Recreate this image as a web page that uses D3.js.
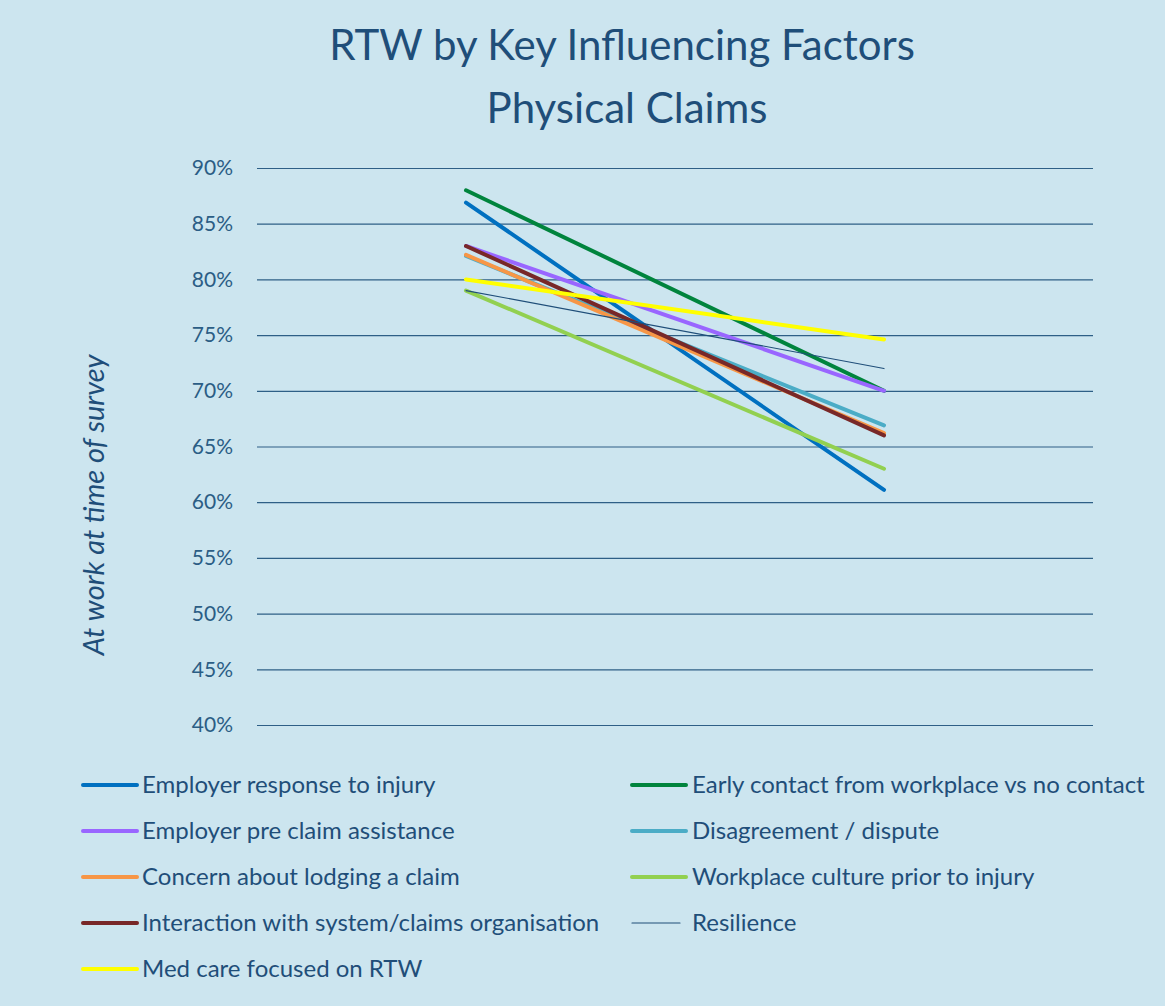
<!DOCTYPE html>
<html>
<head>
<meta charset="utf-8">
<script src="https://cdn.jsdelivr.net/npm/d3@7"></script>
<style>
  body { margin: 0; background: #cce5ef; }
  svg text { font-family: Lato, "Open Sans", sans-serif; fill: #1f4e79; }
</style>
</head>
<body>
<div id="container"></div>
<script>
// categories (two survey points, unlabeled on the chart)
const categories = ["Before", "After"];
const seriesNames = [
  "Employer response to injury",
  "Early contact from workplace vs no contact",
  "Employer pre claim assistance",
  "Disagreement / dispute",
  "Concern about lodging a claim",
  "Workplace culture prior to injury",
  "Interaction with system/claims organisation",
  "Resilience",
  "Med care focused on RTW"
];
const startValues = [0.869, 0.880, 0.830, 0.821, 0.822, 0.790, 0.830, 0.790, 0.800];
const endValues   = [0.611, 0.700, 0.700, 0.669, 0.662, 0.630, 0.660, 0.720, 0.746];
const seriesColors = ["#0070c0", "#00843d", "#9966ff", "#4bacc6", "#f79646", "#92d050", "#782828", "#1f4e79", "#ffff00"];
const seriesWidths = [4, 4, 4, 4, 4, 4, 4, 1.2, 4];
const yTicks = [0.40, 0.45, 0.50, 0.55, 0.60, 0.65, 0.70, 0.75, 0.80, 0.85, 0.90];

const w = 1165;
const h = 1006;
const plotLeft = 257, plotRight = 1093, plotTop = 168, plotBottom = 725;

const svg = d3.select("#container")
              .append("svg")
              .attr("width", w)
              .attr("height", h);

svg.append("rect").attr("width", w).attr("height", h).attr("fill", "#cce5ef");

const xScale = d3.scalePoint()
                 .domain(categories)
                 .range([plotLeft, plotRight])
                 .padding(0.5);
const yScale = d3.scaleLinear()
                 .domain([0.40, 0.90])
                 .range([plotBottom, plotTop]);

// gridlines + tick labels
const yAxis = d3.axisLeft(yScale)
                .tickValues(yTicks)
                .tickFormat(d3.format(".0%"))
                .tickSize(-(plotRight - plotLeft))
                .tickPadding(24);

const gy = svg.append("g")
   .attr("transform", "translate(" + plotLeft + ",0)")
   .call(yAxis);
gy.select(".domain").remove();
gy.selectAll("line").attr("stroke", "#2e5f86").attr("stroke-width", 1.2);
gy.selectAll("text")
  .style("font-size", "21px")
  .style("fill", "#2b5d85")
  .attr("font-family", null);

// series lines
const data = seriesNames.map((name, i) => ({
  name: name,
  color: seriesColors[i],
  width: seriesWidths[i],
  values: [startValues[i], endValues[i]]
}));

const line = d3.line()
               .x((d, i) => xScale(categories[i]))
               .y(d => yScale(d));

svg.selectAll("path.series")
   .data(data)
   .enter()
   .append("path")
   .attr("class", "series")
   .attr("d", d => line(d.values))
   .attr("fill", "none")
   .attr("stroke", d => d.color)
   .attr("stroke-width", d => d.width)
   .attr("stroke-linecap", "round");

// titles
svg.append("text")
   .attr("x", 622).attr("y", 60)
   .attr("text-anchor", "middle")
   .style("font-size", "42px")
   .text("RTW by Key Influencing Factors");
svg.append("text")
   .attr("x", 627).attr("y", 123)
   .attr("text-anchor", "middle")
   .style("font-size", "42px")
   .text("Physical Claims");

// y axis title
svg.append("text")
   .attr("transform", "translate(104,505) rotate(-90)")
   .attr("text-anchor", "middle")
   .style("font-size", "29px")
   .style("font-style", "italic")
   .text("At work at time of survey");

// legend
const legend = svg.append("g");
const items = legend.selectAll("g")
   .data(data)
   .enter()
   .append("g")
   .attr("transform", (d, i) => "translate(" + (i % 2 === 0 ? 83 : 632) + "," + (785 + Math.floor(i / 2) * 46) + ")");
items.append("line")
   .attr("x1", 0).attr("x2", d => d.width > 2 ? 54 : 48)
   .attr("stroke", d => d.color)
   .attr("stroke-width", d => d.width)
   .attr("stroke-linecap", "round");
items.append("text")
   .attr("x", (d, i) => i % 2 === 0 ? 59 : 60)
   .attr("dy", "0.35em")
   .style("font-size", "24px")
   .text(d => d.name);
</script>
</body>
</html>
